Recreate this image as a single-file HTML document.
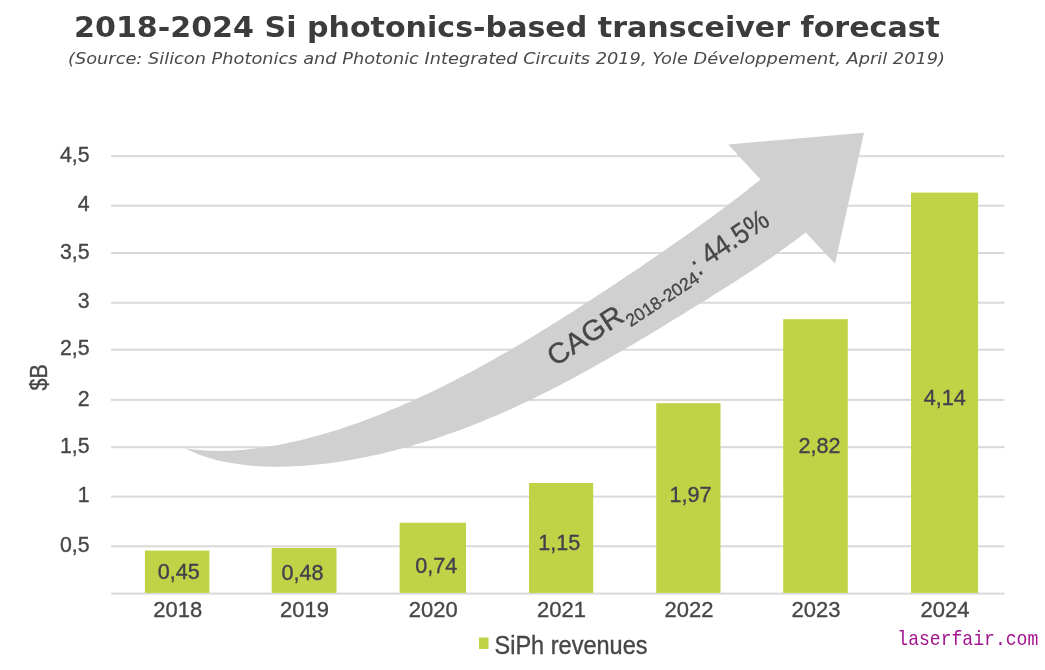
<!DOCTYPE html>
<html lang="en"><head><meta charset="utf-8"><title>2018-2024 Si photonics-based transceiver forecast</title>
<style>
html,body{margin:0;padding:0;background:#fff;}
body{width:1045px;height:670px;overflow:hidden;position:relative;font-family:"Liberation Sans",sans-serif;}
svg{position:absolute;left:0;top:0;display:block;}
.t{font-family:"DejaVu Sans","Liberation Sans",sans-serif;font-weight:bold;fill:#3c3c3c;}
.s{font-family:"DejaVu Sans","Liberation Sans",sans-serif;font-style:italic;fill:#4a4a4a;}
.a{font-family:"Liberation Sans",sans-serif;fill:#474747;stroke:#474747;stroke-width:.35px;}
.v{font-family:"Liberation Sans",sans-serif;fill:#41414c;stroke:#41414c;stroke-width:.35px;}
.w{font-family:"Liberation Mono",monospace;fill:#a3148f;}
</style></head><body>
<svg width="1045" height="670" viewBox="0 0 1045 670">
<rect width="1045" height="670" fill="#ffffff"/>
<text class="t" x="507" y="36.6" font-size="29" text-anchor="middle" textLength="866" lengthAdjust="spacingAndGlyphs">2018-2024 Si photonics-based transceiver forecast</text>
<text class="s" x="506.5" y="63.7" font-size="15" text-anchor="middle" textLength="877" lengthAdjust="spacingAndGlyphs">(Source: Silicon Photonics and Photonic Integrated Circuits 2019, Yole Développement, April 2019)</text>
<rect x="111" y="592.60" width="893.5" height="2" fill="#d9d9d9"/>
<rect x="111" y="545.30" width="893.5" height="2" fill="#d9d9d9"/>
<rect x="111" y="495.60" width="893.5" height="2" fill="#d9d9d9"/>
<rect x="111" y="446.20" width="893.5" height="2" fill="#d9d9d9"/>
<rect x="111" y="398.90" width="893.5" height="2" fill="#d9d9d9"/>
<rect x="111" y="348.70" width="893.5" height="2" fill="#d9d9d9"/>
<rect x="111" y="301.70" width="893.5" height="2" fill="#d9d9d9"/>
<rect x="111" y="252.00" width="893.5" height="2" fill="#d9d9d9"/>
<rect x="111" y="204.70" width="893.5" height="2" fill="#d9d9d9"/>
<rect x="111" y="155.20" width="893.5" height="2" fill="#d9d9d9"/>
<text class="a" x="89.5" y="552.00" font-size="21.3" text-anchor="end">0,5</text>
<text class="a" x="89.5" y="502.30" font-size="21.3" text-anchor="end">1</text>
<text class="a" x="89.5" y="452.90" font-size="21.3" text-anchor="end">1,5</text>
<text class="a" x="89.5" y="405.60" font-size="21.3" text-anchor="end">2</text>
<text class="a" x="89.5" y="355.40" font-size="21.3" text-anchor="end">2,5</text>
<text class="a" x="89.5" y="308.40" font-size="21.3" text-anchor="end">3</text>
<text class="a" x="89.5" y="258.70" font-size="21.3" text-anchor="end">3,5</text>
<text class="a" x="89.5" y="211.40" font-size="21.3" text-anchor="end">4</text>
<text class="a" x="89.5" y="161.90" font-size="21.3" text-anchor="end">4,5</text>
<text class="a" transform="translate(46.6,390.5) rotate(-90)" font-size="23" textLength="26.5" lengthAdjust="spacingAndGlyphs">$B</text>
<path d="M184.4,448.3 C186.1,448.5 191.1,449.3 194.4,449.6 C197.7,450.0 201.1,450.2 204.4,450.4 C207.7,450.6 211.1,450.8 214.4,450.8 C217.7,450.9 221.1,450.9 224.4,450.8 C227.7,450.7 231.1,450.6 234.4,450.4 C237.7,450.2 241.1,450.0 244.4,449.7 C247.7,449.4 251.1,449.0 254.4,448.6 C257.7,448.2 261.1,447.8 264.4,447.3 C267.7,446.8 271.1,446.2 274.4,445.6 C277.7,445.0 281.1,444.4 284.4,443.7 C287.7,443.0 291.1,442.3 294.4,441.6 C297.7,440.8 301.1,440.0 304.4,439.2 C307.7,438.3 311.1,437.5 314.4,436.6 C317.7,435.7 321.1,434.7 324.4,433.7 C327.7,432.8 331.1,431.7 334.4,430.7 C337.7,429.7 341.1,428.6 344.4,427.5 C347.7,426.4 351.1,425.2 354.4,424.0 C357.7,422.9 361.1,421.7 364.4,420.4 C367.7,419.2 371.1,417.9 374.4,416.7 C377.7,415.4 381.1,414.0 384.4,412.7 C387.7,411.4 391.1,410.0 394.4,408.6 C397.7,407.2 401.1,405.7 404.4,404.3 C407.7,402.8 411.1,401.3 414.4,399.8 C417.7,398.3 421.1,396.8 424.4,395.2 C427.7,393.6 431.1,392.1 434.4,390.4 C437.7,388.8 441.1,387.2 444.4,385.5 C447.7,383.9 451.1,382.2 454.4,380.5 C457.7,378.8 461.1,377.0 464.4,375.3 C467.7,373.5 471.1,371.7 474.4,369.9 C477.7,368.1 481.1,366.3 484.4,364.5 C487.7,362.6 491.1,360.8 494.4,358.9 C497.7,357.0 501.1,355.1 504.4,353.2 C507.7,351.3 511.1,349.3 514.4,347.4 C517.7,345.4 521.1,343.5 524.4,341.5 C527.7,339.5 531.1,337.5 534.4,335.4 C537.7,333.4 541.1,331.4 544.4,329.3 C547.7,327.3 551.1,325.2 554.4,323.1 C557.7,321.0 561.1,319.0 564.4,316.8 C567.7,314.7 571.1,312.6 574.4,310.5 C577.7,308.4 581.1,306.2 584.4,304.1 C587.7,301.9 591.1,299.7 594.4,297.6 C597.7,295.4 601.1,293.2 604.4,291.0 C607.7,288.8 611.1,286.6 614.4,284.4 C617.7,282.2 621.1,279.9 624.4,277.7 C627.7,275.5 631.1,273.2 634.4,271.0 C637.7,268.7 641.1,266.5 644.4,264.2 C647.7,261.9 651.1,259.6 654.4,257.3 C657.7,255.1 661.1,252.8 664.4,250.5 C667.7,248.1 671.1,245.8 674.4,243.5 C677.7,241.2 681.1,238.8 684.4,236.5 C687.7,234.1 691.1,231.8 694.4,229.4 C697.7,227.0 701.1,224.6 704.4,222.2 C707.7,219.8 711.1,217.4 714.4,214.9 C717.7,212.5 721.1,210.0 724.4,207.5 C727.7,205.0 731.1,202.5 734.4,199.9 C737.7,197.4 741.1,194.8 744.4,192.2 C747.7,189.6 751.7,186.5 754.4,184.3 C757.1,182.2 759.5,180.2 760.5,179.4 L728.2,144.4 L864,132.8 L835,263.8 L805.7,232.5 C803.8,233.9 798.0,238.4 794.4,241.1 C790.8,243.7 787.7,246.0 784.4,248.3 C781.1,250.7 777.7,253.1 774.4,255.4 C771.1,257.7 767.7,260.0 764.4,262.2 C761.1,264.5 757.7,266.7 754.4,268.9 C751.1,271.1 747.7,273.3 744.4,275.5 C741.1,277.6 737.7,279.8 734.4,281.9 C731.1,284.1 727.7,286.2 724.4,288.3 C721.1,290.4 717.7,292.5 714.4,294.6 C711.1,296.7 707.7,298.8 704.4,300.9 C701.1,302.9 697.7,305.0 694.4,307.1 C691.1,309.1 687.7,311.2 684.4,313.2 C681.1,315.3 677.7,317.3 674.4,319.3 C671.1,321.4 667.7,323.4 664.4,325.4 C661.1,327.4 657.7,329.4 654.4,331.4 C651.1,333.4 647.7,335.4 644.4,337.4 C641.1,339.4 637.7,341.4 634.4,343.4 C631.1,345.3 627.7,347.3 624.4,349.2 C621.1,351.2 617.7,353.1 614.4,355.0 C611.1,357.0 607.7,358.9 604.4,360.8 C601.1,362.7 597.7,364.5 594.4,366.4 C591.1,368.3 587.7,370.1 584.4,372.0 C581.1,373.8 577.7,375.6 574.4,377.4 C571.1,379.2 567.7,381.0 564.4,382.7 C561.1,384.5 557.7,386.2 554.4,388.0 C551.1,389.7 547.7,391.4 544.4,393.0 C541.1,394.7 537.7,396.4 534.4,398.0 C531.1,399.6 527.7,401.2 524.4,402.8 C521.1,404.4 517.7,405.9 514.4,407.5 C511.1,409.0 507.7,410.5 504.4,412.0 C501.1,413.4 497.7,414.9 494.4,416.3 C491.1,417.7 487.7,419.1 484.4,420.5 C481.1,421.9 477.7,423.2 474.4,424.5 C471.1,425.8 467.7,427.1 464.4,428.4 C461.1,429.6 457.7,430.8 454.4,432.0 C451.1,433.2 447.7,434.4 444.4,435.5 C441.1,436.7 437.7,437.8 434.4,438.9 C431.1,439.9 427.7,441.0 424.4,442.0 C421.1,443.0 417.7,444.0 414.4,445.0 C411.1,446.0 407.7,446.9 404.4,447.8 C401.1,448.7 397.7,449.6 394.4,450.4 C391.1,451.3 387.7,452.1 384.4,452.9 C381.1,453.7 377.7,454.4 374.4,455.2 C371.1,455.9 367.7,456.6 364.4,457.2 C361.1,457.9 357.7,458.5 354.4,459.2 C351.1,459.8 347.7,460.3 344.4,460.9 C341.1,461.4 337.7,461.9 334.4,462.4 C331.1,462.9 327.7,463.3 324.4,463.7 C321.1,464.1 317.7,464.5 314.4,464.8 C311.1,465.1 307.7,465.4 304.4,465.7 C301.1,465.9 297.7,466.2 294.4,466.3 C291.1,466.5 287.7,466.6 284.4,466.7 C281.1,466.8 277.7,466.8 274.4,466.8 C271.1,466.8 267.7,466.7 264.4,466.6 C261.1,466.4 257.7,466.2 254.4,466.0 C251.1,465.7 247.7,465.4 244.4,465.0 C241.1,464.6 237.7,464.2 234.4,463.6 C231.1,463.1 227.7,462.5 224.4,461.8 C221.1,461.1 217.7,460.3 214.4,459.4 C211.1,458.5 207.7,457.5 204.4,456.4 C201.1,455.3 197.7,454.1 194.4,452.7 C191.1,451.4 186.1,449.0 184.4,448.3 Z" fill="#d0d0d0"/>
<text class="a" transform="translate(555,367) rotate(-33.4)" font-size="28.5"><tspan textLength="85" lengthAdjust="spacingAndGlyphs">CAGR</tspan><tspan font-size="17.5" dy="8.5" textLength="84" lengthAdjust="spacingAndGlyphs">2018-2024</tspan><tspan dy="-5" dx="1" textLength="7" lengthAdjust="spacingAndGlyphs">:</tspan><tspan dy="-3.5" textLength="82" lengthAdjust="spacingAndGlyphs"> 44.5%</tspan></text>
<rect x="144.9" y="550.6" width="64.5" height="42.3" fill="#c0d346"/>
<rect x="271.7" y="548.0" width="64.8" height="44.9" fill="#c0d346"/>
<rect x="399.6" y="522.8" width="66.4" height="70.1" fill="#c0d346"/>
<rect x="529.0" y="483" width="64.2" height="109.9" fill="#c0d346"/>
<rect x="656.2" y="403.2" width="64.3" height="189.7" fill="#c0d346"/>
<rect x="783.2" y="319.2" width="64.6" height="273.7" fill="#c0d346"/>
<rect x="911.0" y="192.6" width="67.1" height="400.3" fill="#c0d346"/>
<text class="v" x="178.7" y="579.4" font-size="21.6" text-anchor="middle">0,45</text>
<text class="a" x="177.7" y="617.2" font-size="22" text-anchor="middle">2018</text>
<text class="v" x="302.6" y="580.0" font-size="21.6" text-anchor="middle">0,48</text>
<text class="a" x="304.6" y="617.2" font-size="22" text-anchor="middle">2019</text>
<text class="v" x="436.3" y="573.4" font-size="21.6" text-anchor="middle">0,74</text>
<text class="a" x="433.3" y="617.2" font-size="22" text-anchor="middle">2020</text>
<text class="v" x="559.3" y="549.8" font-size="21.6" text-anchor="middle">1,15</text>
<text class="a" x="561.6" y="617.2" font-size="22" text-anchor="middle">2021</text>
<text class="v" x="690.4" y="502.3" font-size="21.6" text-anchor="middle">1,97</text>
<text class="a" x="688.9" y="617.2" font-size="22" text-anchor="middle">2022</text>
<text class="v" x="819.5" y="452.8" font-size="21.6" text-anchor="middle">2,82</text>
<text class="a" x="816.0" y="617.2" font-size="22" text-anchor="middle">2023</text>
<text class="v" x="944.8" y="405.1" font-size="21.6" text-anchor="middle">4,14</text>
<text class="a" x="945.0" y="617.2" font-size="22" text-anchor="middle">2024</text>
<rect x="479" y="637.5" width="9.5" height="11.5" fill="#c0d346"/>
<text class="a" x="494.5" y="653.6" font-size="25" textLength="153" lengthAdjust="spacingAndGlyphs">SiPh revenues</text>
<text class="w" x="897.3" y="644.5" font-size="20.4" textLength="141" lengthAdjust="spacingAndGlyphs">laserfair.com</text>
</svg>
</body></html>
